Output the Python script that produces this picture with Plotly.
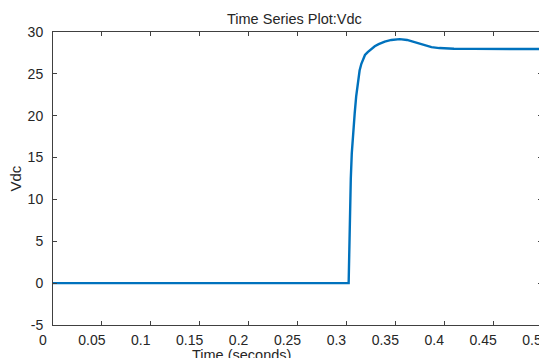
import plotly.graph_objects as go

time_s = [0, 0.3023, 0.3030, 0.3036, 0.3045, 0.3055, 0.3070, 0.3085, 0.3100, 0.3119,
          0.3135, 0.3153, 0.3170, 0.3190, 0.3218, 0.3255, 0.3290, 0.3330, 0.3392, 0.3460,
          0.3545, 0.3620, 0.3700, 0.3787, 0.3870, 0.3950, 0.4020, 0.4100, 0.4300, 0.4600, 0.5]
vdc = [0, 0, 4.0, 8.0, 12.5, 15.5, 18.4, 20.3, 22.3, 24.2,
       25.4, 26.2, 26.8, 27.25, 27.6, 28.0, 28.3, 28.55, 28.85, 29.05,
       29.15, 29.05, 28.8, 28.45, 28.2, 28.08, 28.02, 28.0, 27.98, 27.97, 27.97]

x_ticks = [0, 0.05, 0.1, 0.15, 0.2, 0.25, 0.3, 0.35, 0.4, 0.45, 0.5]
x_tick_labels = ["0", "0.05", "0.1", "0.15", "0.2", "0.25", "0.3", "0.35", "0.4", "0.45", "0.5"]
y_ticks = [-5, 0, 5, 10, 15, 20, 25, 30]
y_tick_labels = ["-5", "0", "5", "10", "15", "20", "25", "30"]

font_family = "Liberation Sans, Arial, sans-serif"
axis_color = "#404040"
text_color = "#262626"

fig = go.Figure()
fig.add_trace(go.Scatter(x=time_s, y=vdc, mode="lines",
                         line=dict(color="#0072BD", width=2.4), showlegend=False))

# page body has an 8px default margin, so the figure is sized to the visible area
fig.update_layout(
    width=539, height=350,
    margin=dict(l=45, r=5, t=24, b=33),
    paper_bgcolor="white", plot_bgcolor="white",
    font=dict(family=font_family, size=14, color=text_color),
    annotations=[
        dict(text="Time Series Plot:Vdc", x=0.493, y=1.0, xref="paper", yref="paper",
             xanchor="center", yanchor="bottom", yshift=3, showarrow=False,
             font=dict(size=14.5, color=text_color)),
        dict(text="Time (seconds)", x=0.386, y=0, xref="paper", yref="paper",
             xanchor="center", yanchor="top", yshift=-20, showarrow=False,
             font=dict(size=14.5, color=text_color)),
        dict(text="Vdc", x=0, y=0.5, xref="paper", yref="paper", textangle=-90,
             xanchor="center", yanchor="middle", xshift=-38, showarrow=False,
             font=dict(size=15, color=text_color)),
    ],
)
fig.update_xaxes(range=[0, 0.5], tickvals=x_ticks, ticktext=x_tick_labels,
                 ticks="inside", ticklen=4, tickcolor=axis_color, mirror="ticks",
                 showline=True, linecolor=axis_color, linewidth=1, showgrid=False,
                 zeroline=False, tickfont=dict(size=14), automargin=False,
                 ticklabeloverflow="allow", ticklabelshift=-10, ticklabelstandoff=2)
fig.update_yaxes(range=[-5, 30], tickvals=y_ticks, ticktext=y_tick_labels,
                 ticks="inside", ticklen=4, tickcolor=axis_color, mirror="ticks",
                 showline=True, linecolor=axis_color, linewidth=1, showgrid=False,
                 zeroline=False, tickfont=dict(size=14), automargin=False,
                 ticklabelstandoff=6)

fig.write_html("out.html")
